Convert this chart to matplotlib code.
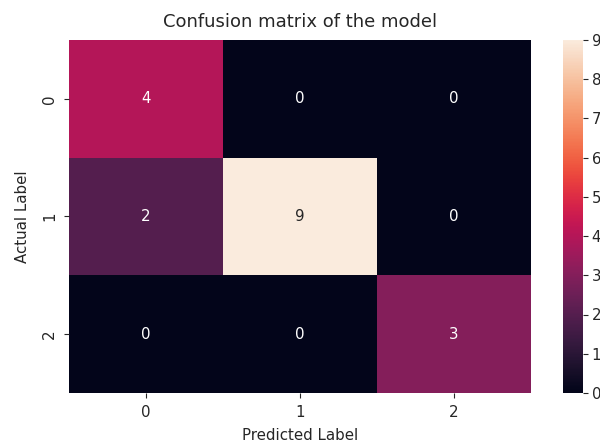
import matplotlib
matplotlib.use('Agg')
import matplotlib.pyplot as plt
import numpy as np
import seaborn as sns

# confusion matrix counts (rows: actual, columns: predicted)
class_labels = ['0', '1', '2']
cm_row0 = [4, 0, 0]
cm_row1 = [2, 9, 0]
cm_row2 = [0, 0, 3]
cm = np.array([cm_row0, cm_row1, cm_row2])

plt.rcParams['font.size'] = 10.8
plt.rcParams['text.color'] = '#262626'
plt.rcParams['axes.labelcolor'] = '#262626'
plt.rcParams['xtick.color'] = '#262626'
plt.rcParams['ytick.color'] = '#262626'

fig = plt.figure(figsize=(6, 4.44), dpi=100)
ax = fig.add_axes([0.115, 0.115, 0.77, 0.795])
cax = fig.add_axes([0.938, 0.115, 0.034, 0.795])

sns.heatmap(cm, annot=True, fmt='d', ax=ax, cbar_ax=cax,
            xticklabels=class_labels, yticklabels=class_labels,
            annot_kws={'fontsize': 10.8})
ax.set_title('Confusion matrix of the model', fontsize=13, pad=9)
ax.set_xlabel('Predicted Label', labelpad=6)
ax.set_ylabel('Actual Label', labelpad=9)
ax.tick_params(labelsize=10.8, pad=5)
cax.tick_params(labelsize=10.8, pad=2.5)

fig.savefig('out.png', dpi=100)
